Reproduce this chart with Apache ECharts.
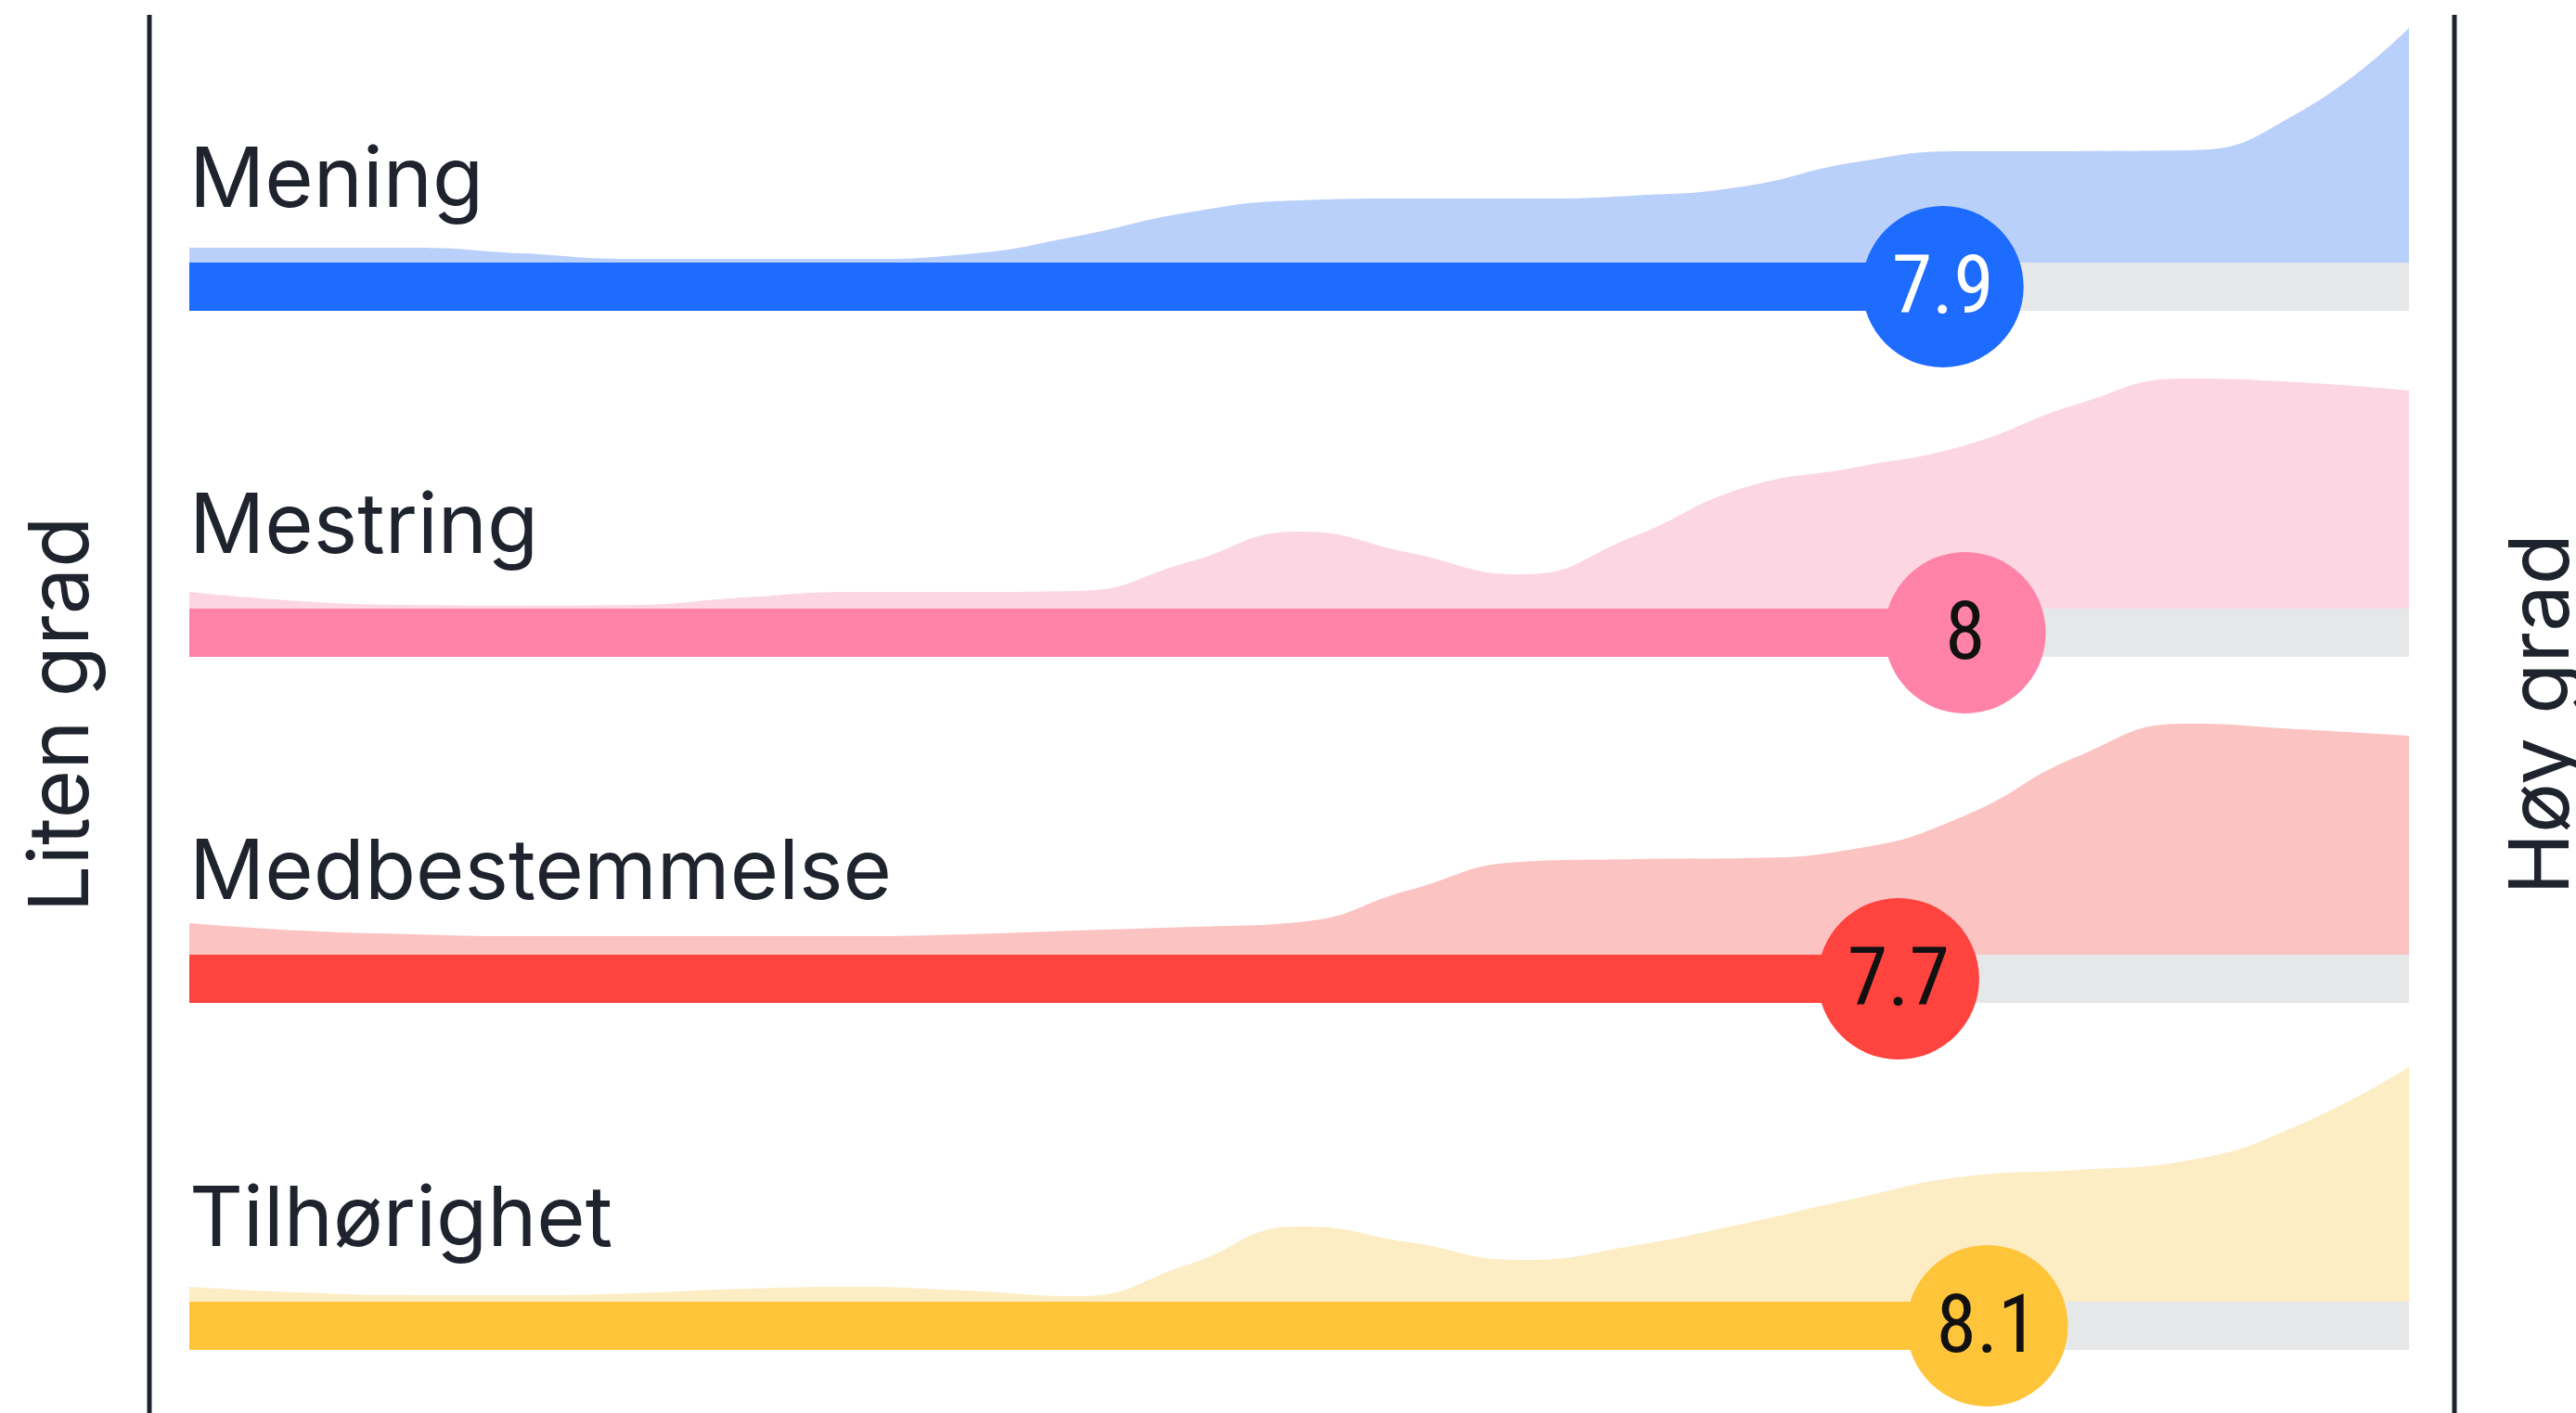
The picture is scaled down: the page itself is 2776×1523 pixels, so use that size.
<!DOCTYPE html>
<html>
<head>
<meta charset="utf-8">
<script src="https://cdn.jsdelivr.net/npm/echarts@6/dist/echarts.min.js"></script>
<style>
  html, body { margin: 0; padding: 0; background: #fff; }
  #main { width: 2776px; height: 1523px; }
</style>
</head>
<body>
<div id="main"></div>
<script>
// score scale points where the distribution is sampled (0 = liten grad, 10 = høy grad)
const scorePoints = [0, 0.5, 1, 1.5, 2, 2.5, 3, 3.5, 4, 4.5, 5, 5.5, 6, 6.5, 7, 7.5, 8, 8.5, 9, 9.5, 10]

const categories = ['Mening', 'Mestring', 'Medbestemmelse', 'Tilhørighet']
const scores = [7.9, 8, 7.7, 8.1]

// relative share of answers along the scale
const meningDensity = [6.2, 6.2, 6.2, 3.8, 1.5, 1.5, 1.5, 3.5, 11, 20.8, 25.8, 26.5, 26.5, 27.7, 31.5, 41.5, 46.2, 46.2, 46.5, 62, 97.3]
const mestringDensity = [6.9, 3.1, 1.5, 1.2, 1.5, 4.6, 6.9, 6.9, 7.3, 19.2, 31.9, 23.1, 14.2, 29.6, 50, 58.5, 67.7, 84.6, 95.4, 93.8, 90.4]
const medbestemmelseDensity = [13.1, 10, 8.5, 7.7, 7.7, 7.7, 7.7, 8.5, 10, 11.5, 13.5, 26.9, 38.5, 39.6, 40, 43.8, 57.7, 81.9, 95.8, 93.5, 90.8]
const tilhorighetDensity = [6.2, 3.8, 2.7, 2.7, 3.5, 5.4, 6.2, 4.6, 2.3, 15.4, 31.2, 24.6, 17.3, 23.1, 32.3, 42.7, 51.9, 54.6, 58.5, 73.1, 97.3]

const axisNameLow = 'Liten grad'
const axisNameHigh = 'Høy grad'

const densities = [meningDensity, mestringDensity, medbestemmelseDensity, tilhorighetDensity]

// styling
const barColors = ['#1d6bff', '#ff82a9', '#ff433e', '#ffc53a']
const areaColors = ['#b9d0fb', '#fcd7e3', '#fcc3c3', '#fdedc5']
const valueTextColors = ['#ffffff', '#111111', '#111111', '#111111']
const trackColor = '#e5e7e9'
const inkColor = '#1f232d'
const fontFamily = 'Inter'
const numberFont = "'Liberation Sans Narrow', 'Roboto Condensed', Inter, sans-serif"

// layout
const plotLeft = 204
const plotRight = 180
const barTops = [283, 656, 1029, 1403]
const barHeight = 52
const areaHeight = 260

const grid = []
const xAxis = []
const yAxis = []
const series = []
const graphic = []

categories.forEach((name, i) => {
  const top = barTops[i]
  // area grid (sits on top of the bar)
  grid.push({ left: plotLeft, right: plotRight, top: top - areaHeight, height: areaHeight })
  xAxis.push({ type: 'value', gridIndex: 2 * i, min: 0, max: 10, show: false })
  yAxis.push({ type: 'value', gridIndex: 2 * i, min: 0, max: 100, show: false })
  // bar grid
  grid.push({ left: plotLeft, right: plotRight, top: top, height: barHeight })
  xAxis.push({ type: 'value', gridIndex: 2 * i + 1, min: 0, max: 10, show: false })
  yAxis.push({ type: 'category', gridIndex: 2 * i + 1, data: [name], show: false })

  series.push({
    type: 'line',
    name: name,
    xAxisIndex: 2 * i,
    yAxisIndex: 2 * i,
    data: scorePoints.map((s, k) => [s, densities[i][k]]),
    smooth: 0.5,
    showSymbol: false,
    lineStyle: { width: 0 },
    areaStyle: { color: areaColors[i], opacity: 1 },
    silent: true,
    z: 1
  })
  series.push({
    type: 'bar',
    xAxisIndex: 2 * i + 1,
    yAxisIndex: 2 * i + 1,
    data: [scores[i]],
    barWidth: barHeight,
    itemStyle: { color: barColors[i] },
    showBackground: true,
    backgroundStyle: { color: trackColor },
    silent: true,
    z: 2
  })
  series.push({
    type: 'scatter',
    xAxisIndex: 2 * i + 1,
    yAxisIndex: 2 * i + 1,
    data: [[scores[i], 0]],
    symbol: 'circle',
    symbolSize: 174,
    itemStyle: { color: barColors[i], opacity: 1 },
    label: {
      show: true,
      position: 'inside',
      offset: [0, 6],
      formatter: p => String(p.value[0]),
      color: valueTextColors[i],
      fontFamily: numberFont,
      fontSize: 88,
      fontWeight: 'normal'
    },
    silent: true,
    z: 3
  })

  graphic.push({
    type: 'text',
    left: plotLeft,
    top: top - 132,
    style: {
      text: name,
      fill: inkColor,
      font: '400 90px ' + fontFamily
    }
  })
})

graphic.push(
  { type: 'line', shape: { x1: 161, y1: 16, x2: 161, y2: 1523 }, style: { stroke: inkColor, lineWidth: 5 } },
  { type: 'line', shape: { x1: 2645, y1: 16, x2: 2645, y2: 1523 }, style: { stroke: inkColor, lineWidth: 5 } },
  {
    type: 'text', x: 68, y: 770, rotation: Math.PI / 2,
    style: { text: axisNameLow, fill: inkColor, font: '400 90px ' + fontFamily, align: 'center', verticalAlign: 'middle' }
  },
  {
    type: 'text', x: 2741, y: 770, rotation: Math.PI / 2,
    style: { text: axisNameHigh, fill: inkColor, font: '400 90px ' + fontFamily, align: 'center', verticalAlign: 'middle' }
  }
)

const chart = echarts.init(document.getElementById('main'), null, { renderer: 'canvas' })
chart.setOption({
  animation: false,
  backgroundColor: '#ffffff',
  grid: grid,
  xAxis: xAxis,
  yAxis: yAxis,
  series: series,
  graphic: graphic
})
</script>
</body>
</html>
